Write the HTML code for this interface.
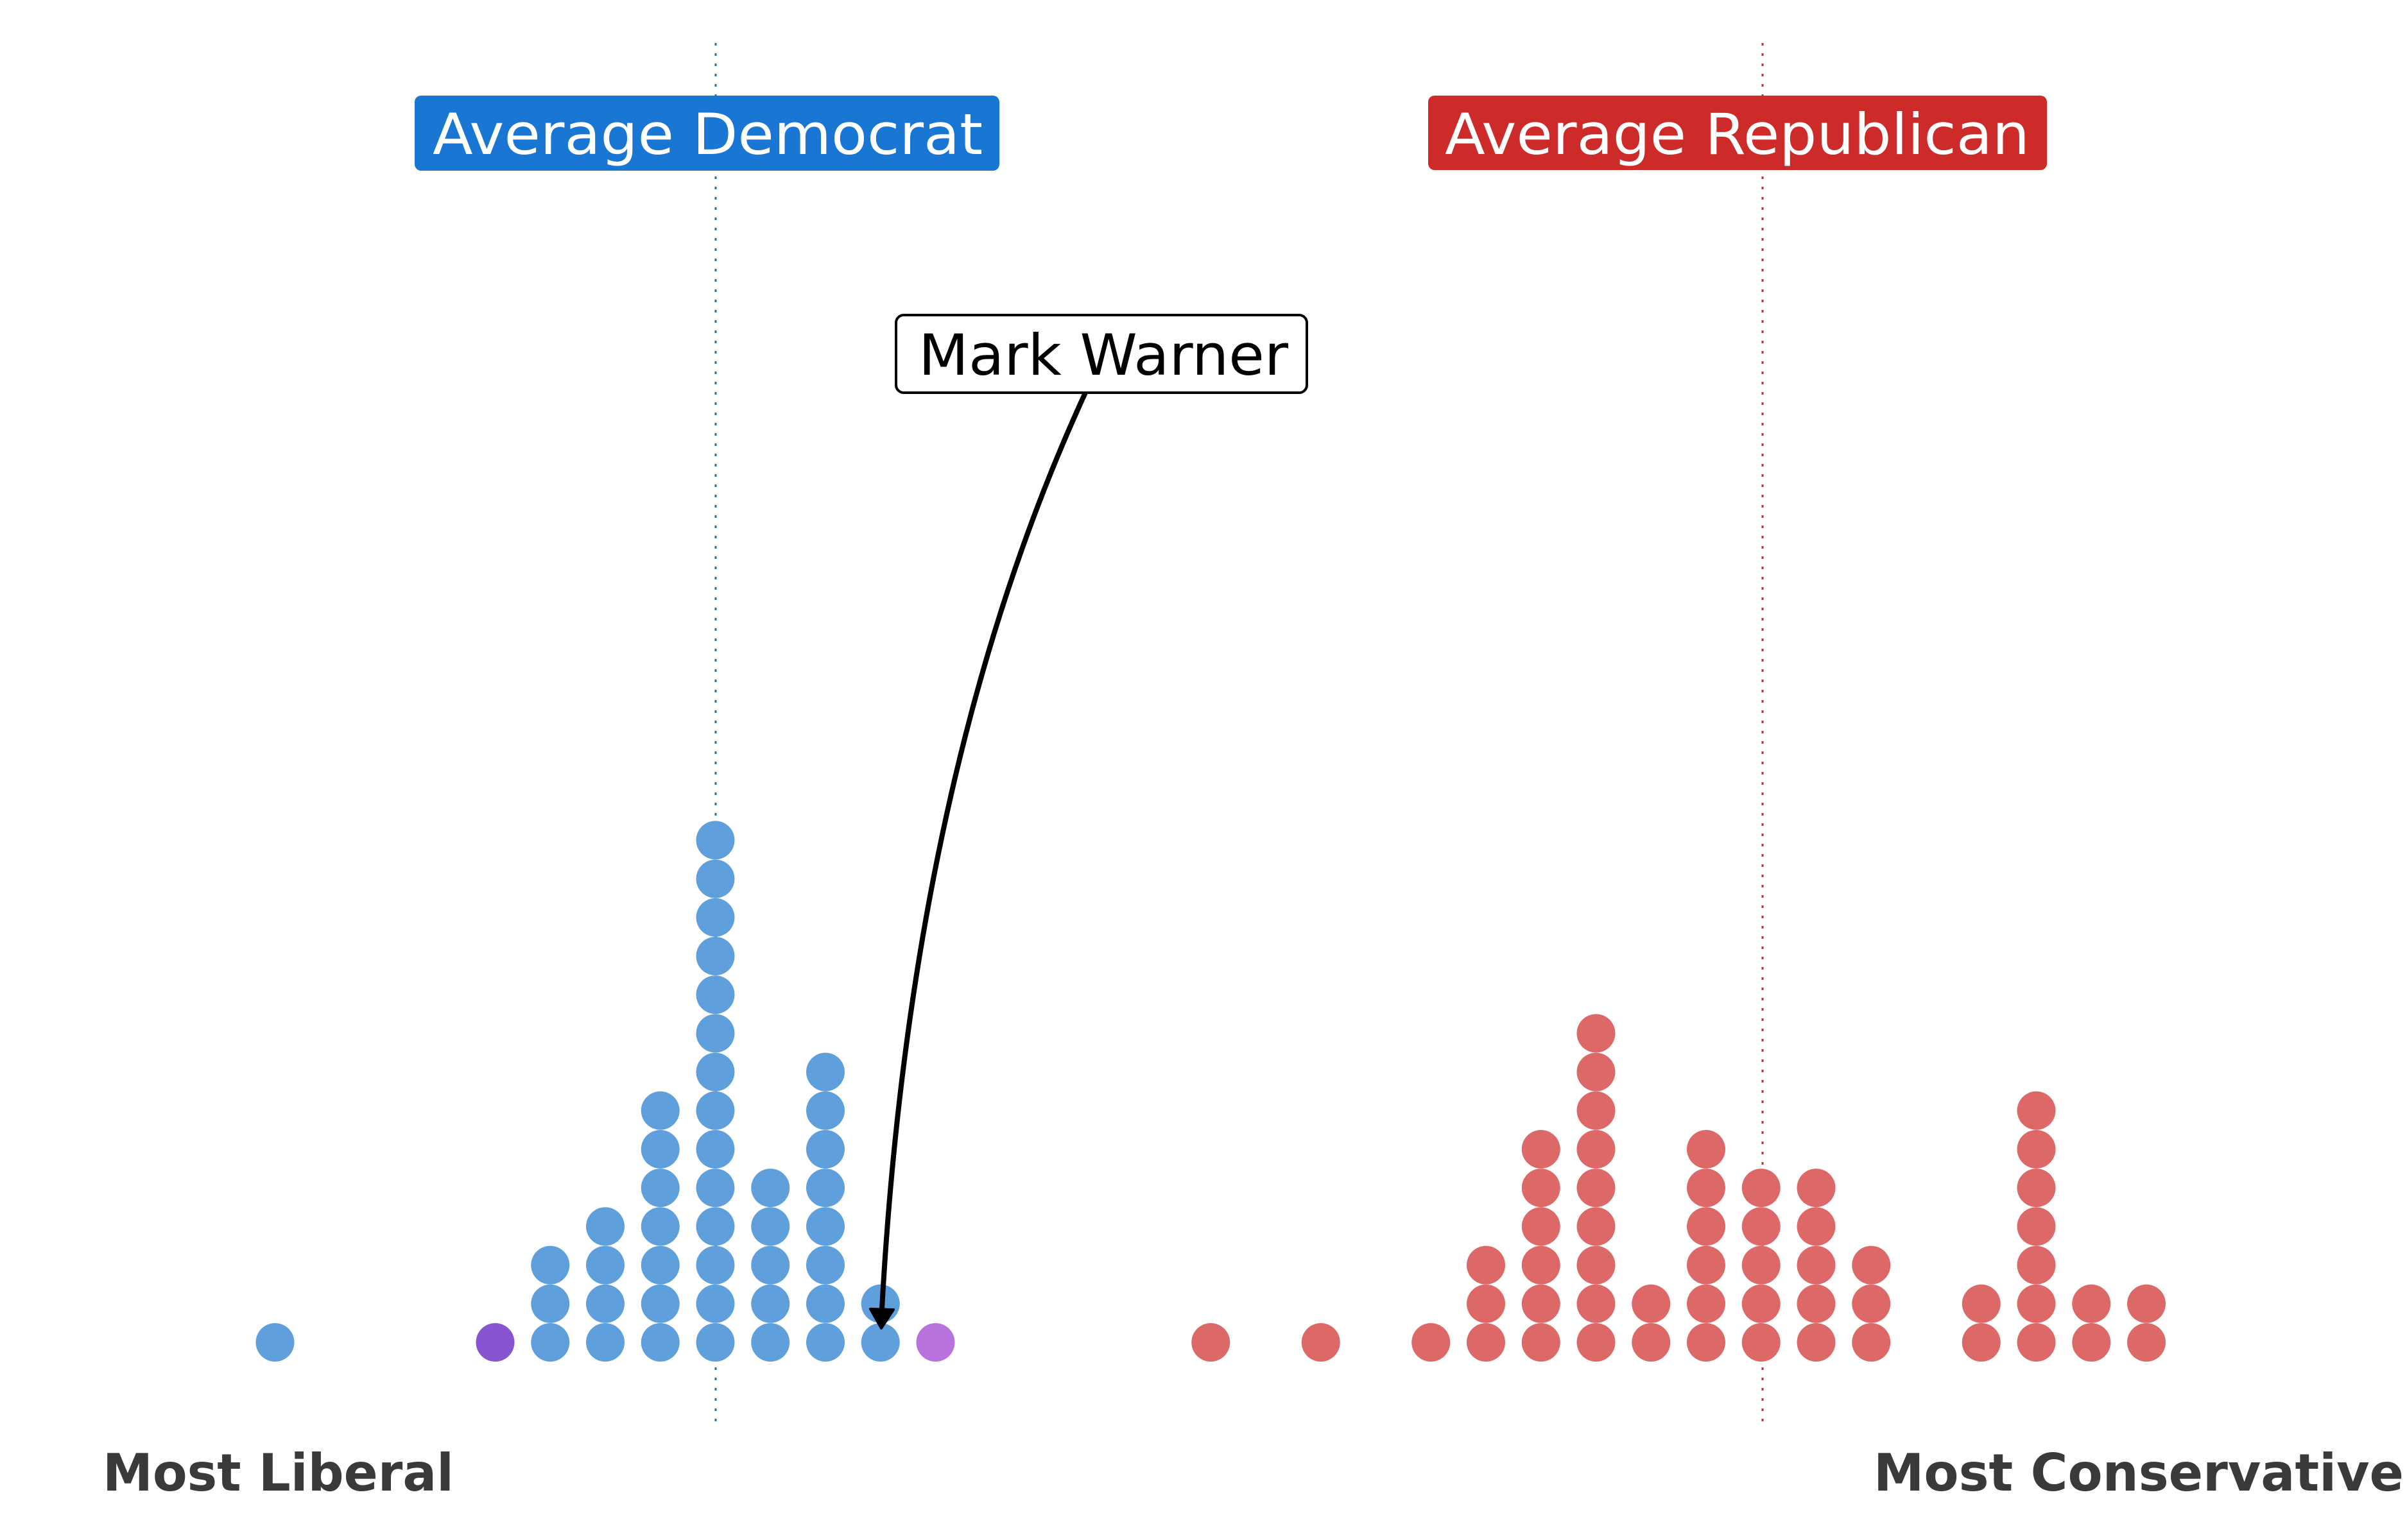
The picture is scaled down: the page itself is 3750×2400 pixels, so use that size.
<!DOCTYPE html>
<html><head><meta charset="utf-8"><style>
html,body{margin:0;padding:0;background:#fff;}
svg{display:block;}
text{font-family:"DejaVu Sans","Liberation Sans",sans-serif;}
</style></head><body>
<svg id="chart" width="3750" height="2400" viewBox="0 0 3750 2400" xmlns="http://www.w3.org/2000/svg">
<line x1="1115" y1="67" x2="1115" y2="2225" stroke="#1a75d0" stroke-width="3" stroke-dasharray="4,12"/>
<line x1="2746" y1="67" x2="2746" y2="2225" stroke="#d62728" stroke-width="3" stroke-dasharray="4,12"/>
<g id="dots"></g>
<g>
<rect x="646" y="149" width="911" height="117" rx="10" fill="#1976d2"/>
<text x="674" y="240" font-size="88" fill="#fff" textLength="857" lengthAdjust="spacingAndGlyphs">Average Democrat</text>
</g>
<g>
<rect x="2225" y="149" width="964" height="116" rx="10" fill="#cd2a2a"/>
<text x="2251" y="240" font-size="88" fill="#fff" textLength="911" lengthAdjust="spacingAndGlyphs">Average Republican</text>
</g>
<path d="M1691 612 Q1420 1200 1374 2040" fill="none" stroke="#000" stroke-width="8"/>
<polygon points="1356,2040 1392,2041 1373,2070" fill="#000" stroke="#000" stroke-width="4" stroke-linejoin="round"/>
<g>
<rect x="1396" y="491" width="640" height="121" rx="12" fill="#fff" stroke="#000" stroke-width="4"/>
<text x="1431" y="584" font-size="88" fill="#000" textLength="576" lengthAdjust="spacingAndGlyphs">Mark Warner</text>
</g>
<text x="160" y="2323" font-size="80" font-weight="bold" fill="#3a3a3a" textLength="547" lengthAdjust="spacingAndGlyphs">Most Liberal</text>
<text x="2919" y="2323" font-size="80" font-weight="bold" fill="#3a3a3a" textLength="826" lengthAdjust="spacingAndGlyphs">Most Conservative</text>
</svg>
<script>
// Bins (ideology score index) and counts per bin
const demBins = [0, 4, 5, 6, 7, 8, 9, 10, 11, 12];
const demCounts = [1, 1, 3, 4, 7, 14, 5, 8, 2, 1];
const demColors = ["#5f9fdc", "#8855d0", "#5f9fdc", "#5f9fdc", "#5f9fdc", "#5f9fdc", "#5f9fdc", "#5f9fdc", "#5f9fdc", "#b973dd"];
const repBins = [17, 19, 21, 22, 23, 24, 25, 26, 27, 28, 29, 31, 32, 33, 34];
const repCounts = [1, 1, 1, 3, 6, 9, 2, 6, 5, 5, 3, 2, 7, 2, 2];

const X0 = 428.5, DX = 85.75, Y0 = 2092, DY = 60.2, R = 30;
function xScale(b){ return X0 + b * DX; }
function yScale(k){ return Y0 - k * DY; }

const g = document.getElementById('dots');
const NS = "http://www.w3.org/2000/svg";
function draw(bins, counts, colorFn, party){
  bins.forEach((b, i) => {
    for (let k = 0; k < counts[i]; k++){
      const c = document.createElementNS(NS, 'circle');
      c.setAttribute('cx', xScale(b));
      c.setAttribute('cy', yScale(k));
      c.setAttribute('r', R);
      c.setAttribute('fill', colorFn(i));
      
      
      g.appendChild(c);
    }
  });
}
draw(demBins, demCounts, i => demColors[i], 'democrat');
draw(repBins, repCounts, i => "#dd6868", 'republican');
</script>
</body></html>
